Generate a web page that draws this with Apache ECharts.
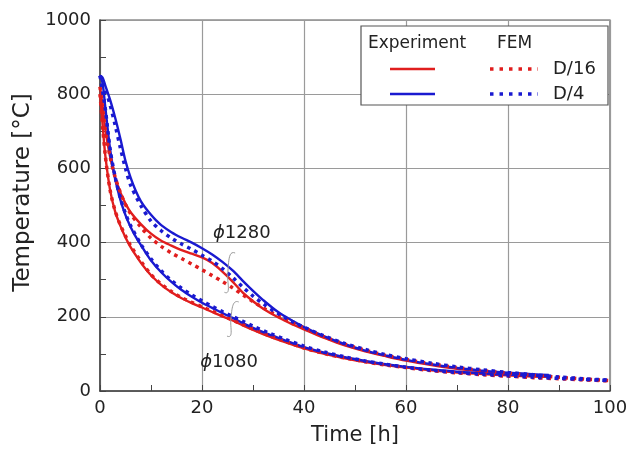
<!DOCTYPE html>
<html><head><meta charset="utf-8">
<script src="https://cdn.jsdelivr.net/npm/echarts@6/dist/echarts.min.js"></script>
<style>html,body{margin:0;padding:0;background:#fff}#c{width:641px;height:457px}</style>
</head><body><div id="c"></div>
<script>
// ---- data ----
var xTicks = [0, 20, 40, 60, 80, 100];
var yTicks = [0, 200, 400, 600, 800, 1000];

// phi1280, experiment, D/4 (blue)
var tB1280e = [0,0.5,1,2,3,4,5,6,7,8,9,10,11,12,14,16,18,20,22,24,26,28,30,32,35,38,40,44,48,52,56,60,65,70,75,80,85,88];
var vB1280e = [850,845,825,784,735,680,620,575,540,512,492,475,460,447,428,413,400,385,368,348,325,297,270,245,212,187,172,147,126,109,96,84,72,62,55,49,45,43];
// phi1280, experiment, D/16 (red)
var tR1280e = [0,0.5,1,2,3,4,5,6,8,10,12,14,16,18,20,22,24,26,28,30,32,35,38,40,44,48,52,56,60,65,70,75,80,85,88];
var vR1280e = [820,770,710,630,575,535,505,482,450,424,405,392,380,370,360,345,322,295,265,242,222,198,178,166,143,123,107,94,82,70,60,53,47,43,41];
// phi1080, experiment, D/4 (blue)
var tB1080e = [0,0.5,1,2,3,4,5,6,7,8,9,10,12,14,16,18,20,22,24,26,28,30,33,36,40,44,48,52,56,60,65,70,75,80,85,88];
var vB1080e = [850,830,770,650,570,515,474,442,416,394,372,352,320,294,272,254,238,224,210,197,183,170,153,138,118,103,91,81,72,65,58,52,48,44,41,40];
// phi1080, experiment, D/16 (red)
var tR1080e = [0,0.5,1,2,3,4,5,6,7,8,9,10,12,14,16,18,20,22,24,26,28,30,33,36,40,44,48,52,56,60,65,70,75,80,85,88];
var vR1080e = [800,720,640,540,482,445,414,388,366,346,328,312,286,266,250,237,225,213,201,190,177,165,148,133,115,100,88,78,70,63,56,50,46,42,39,38];

// FEM
var tF1280 = [0,1,2,3,4,5,6,8,10,12,14,16,18,20,22,24,26,28,30,32,35,38,40,44,48,52,56,60,65,70,75,80,85,90,95,100];
var vB1280f = [850,815,770,715,655,600,555,500,458,432,412,396,382,366,350,330,306,280,256,235,208,185,172,148,128,112,98,87,75,65,57,50,44,38,33,29];
var vR1280f = [820,710,630,575,535,503,478,442,412,390,372,357,342,327,311,295,278,259,241,224,202,182,170,146,126,110,96,85,73,63,55,48,42,37,32,28];
var tF1080 = [0,1,2,3,4,5,6,8,10,12,14,16,18,20,22,24,26,28,30,33,36,40,44,48,52,56,60,65,70,75,80,85,90,95,100];
var vB1080f = [850,765,650,575,520,478,446,396,356,324,298,277,259,243,228,214,201,188,175,157,141,121,105,92,81,72,64,56,50,45,41,37,34,31,28];
var vR1080f = [800,640,540,484,447,418,392,350,314,288,268,252,239,227,215,203,191,179,167,150,135,116,101,89,79,70,63,55,49,44,40,36,33,30,27];

var RED = '#e01e1e', BLUE = '#1a1ad0';
var FONT = 'DejaVu Sans';

function pts(t, v) { return t.map(function (x, i) { return [x, v[i]]; }); }
function solid(name, t, v, c) {
  return { name: name, type: 'line', data: pts(t, v), smooth: 0.3, showSymbol: false, silent: true,
    lineStyle: { color: c, width: 2.4 }, z: 3 };
}
function dotted(name, t, v, c) {
  return { name: name, type: 'line', data: pts(t, v), smooth: 0.3, showSymbol: false, silent: true,
    lineStyle: { color: c, width: 3.5, type: [3.5, 4.5], cap: 'butt' }, z: 4 };
}

var chart = echarts.init(document.getElementById('c'), null, { renderer: 'canvas' });
var option = {
  animation: false,
  backgroundColor: '#fff',
  textStyle: { fontFamily: FONT },
  grid: { left: 100, right: 31, top: 20, bottom: 66, show: true, borderColor: '#555', borderWidth: 1.2, backgroundColor: 'transparent' },
  xAxis: {
    type: 'value', min: 0, max: 100, interval: 20,
    name: 'Time [h]', nameLocation: 'middle', nameGap: 34,
    nameTextStyle: { fontFamily: FONT, fontSize: 21, color: '#222' },
    axisLine: { onZero: false, lineStyle: { color: '#444', width: 1.5 } },
    axisTick: { inside: true, length: 6, lineStyle: { color: '#444' } },
    minorTick: { show: true, splitNumber: 2, length: 6, lineStyle: { color: '#444' } },
    axisLabel: { fontFamily: FONT, fontSize: 18, color: '#222', margin: 8, formatter: function (v) { return String(v); } },
    splitLine: { show: true, lineStyle: { color: '#9a9a9a', width: 1.2 } }
  },
  yAxis: {
    type: 'value', min: 0, max: 1000, interval: 200,
    name: 'Temperature [°C]', nameLocation: 'middle', nameGap: 60,
    nameTextStyle: { fontFamily: FONT, fontSize: 23, color: '#222', padding: [0, 0, 0, 26] },
    axisLine: { onZero: false, lineStyle: { color: '#444', width: 1.5 } },
    axisTick: { inside: true, length: 6, lineStyle: { color: '#444' } },
    minorTick: { show: true, splitNumber: 2, length: 6, lineStyle: { color: '#444' } },
    axisLabel: { fontFamily: FONT, fontSize: 18, color: '#222', margin: 9, formatter: function (v) { return String(v); } },
    splitLine: { show: true, lineStyle: { color: '#9a9a9a', width: 1.2 } }
  },
  series: [
    solid('Exp D/16 φ1280', tR1280e, vR1280e, RED),
    solid('Exp D/16 φ1080', tR1080e, vR1080e, RED),
    solid('Exp D/4 φ1280', tB1280e, vB1280e, BLUE),
    solid('Exp D/4 φ1080', tB1080e, vB1080e, BLUE),
    dotted('FEM D/16 φ1280', tF1280, vR1280f, RED),
    dotted('FEM D/16 φ1080', tF1080, vR1080f, RED),
    dotted('FEM D/4 φ1280', tF1280, vB1280f, BLUE),
    dotted('FEM D/4 φ1080', tF1080, vB1080f, BLUE)
  ]
};
chart.setOption(option);

function P(t, v) { return chart.convertToPixel({ gridIndex: 0 }, [t, v]); }
var a1 = P(27.8, 426), a2 = P(25.3, 78);
var b1 = P(26.5, 372), b2 = P(24.4, 266);
var c1 = P(27.2, 240), c2 = P(24.9, 148);
function brace(top, bot) {
  var mx = (top[0] + bot[0]) / 2 - 2, my = (top[1] + bot[1]) / 2;
  var st = { stroke: '#999', lineWidth: 1, fill: null };
  return [
    { type: 'bezierCurve', z: 10, shape: { x1: top[0], y1: top[1], x2: mx, y2: my, cpx1: top[0] - 7, cpy1: top[1] - 3, cpx2: mx + 1, cpy2: top[1] + 10 }, style: st },
    { type: 'bezierCurve', z: 10, shape: { x1: mx, y1: my, x2: bot[0], y2: bot[1], cpx1: mx - 1, cpy1: bot[1] - 10, cpx2: bot[0] + 7, cpy2: bot[1] + 3 }, style: st }
  ];
}
var LX = 361, LY = 26;
var g = [];
g = g.concat(brace(b1, b2), brace(c1, c2));
g.push(
  { type: 'text', x: a1[0], y: a1[1], z: 10, style: { text: '{i|ϕ}1280', rich: { i: { fontStyle: 'italic', fontFamily: FONT, fontSize: 18, fill: '#222' } }, font: '18px "DejaVu Sans"', fill: '#222', align: 'center', verticalAlign: 'middle', backgroundColor: '#fff' } },
  { type: 'text', x: a2[0], y: a2[1], z: 10, style: { text: '{i|ϕ}1080', rich: { i: { fontStyle: 'italic', fontFamily: FONT, fontSize: 18, fill: '#222' } }, font: '18px "DejaVu Sans"', fill: '#222', align: 'center', verticalAlign: 'middle' } },
  { type: 'rect', z: 20, shape: { x: LX, y: LY, width: 247, height: 79 }, style: { fill: '#fff', stroke: '#555', lineWidth: 1.2 } },
  { type: 'text', z: 21, x: 368, y: 44, style: { text: 'Experiment', font: '17px "DejaVu Sans"', fill: '#222', verticalAlign: 'middle' } },
  { type: 'text', z: 21, x: 497, y: 44, style: { text: 'FEM', font: '17px "DejaVu Sans"', fill: '#222', verticalAlign: 'middle' } },
  { type: 'line', z: 21, shape: { x1: 390, y1: 69, x2: 435, y2: 69 }, style: { stroke: RED, lineWidth: 2.4 } },
  { type: 'line', z: 21, shape: { x1: 390, y1: 94, x2: 435, y2: 94 }, style: { stroke: BLUE, lineWidth: 2.4 } },
  { type: 'line', z: 21, shape: { x1: 490, y1: 69, x2: 538, y2: 69 }, style: { stroke: RED, lineWidth: 3.5, lineDash: [3.5, 6] } },
  { type: 'line', z: 21, shape: { x1: 490, y1: 94, x2: 538, y2: 94 }, style: { stroke: BLUE, lineWidth: 3.5, lineDash: [3.5, 6] } },
  { type: 'text', z: 21, x: 553, y: 69, style: { text: 'D/16', font: '18px "DejaVu Sans"', fill: '#222', verticalAlign: 'middle' } },
  { type: 'text', z: 21, x: 553, y: 94, style: { text: 'D/4', font: '18px "DejaVu Sans"', fill: '#222', verticalAlign: 'middle' } }
);
chart.setOption({ graphic: g });
</script>
</body></html>
